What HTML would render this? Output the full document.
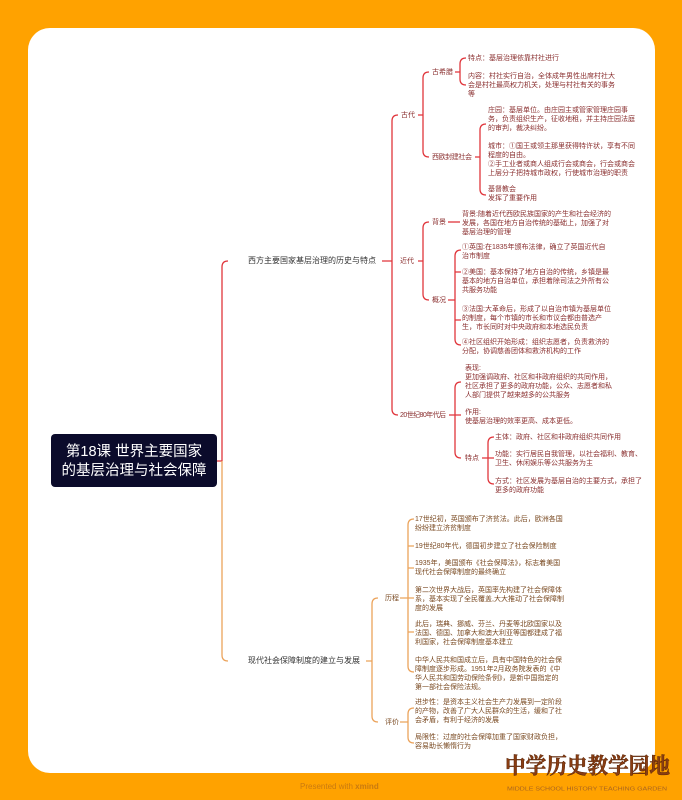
<!DOCTYPE html>
<html><head><meta charset="utf-8"><style>
body{margin:0;width:682px;height:800px;background:#FFA200;overflow:hidden;font-family:"Liberation Sans","Noto Sans CJK SC",sans-serif}
.card{position:absolute;left:28px;top:28px;width:627px;height:745px;background:#fff;border-radius:22px}
svg{position:absolute;left:0;top:0}
.r{fill:#8a2f2f;font-size:7px}
.o{fill:#7a4a22;font-size:7px}
.n{fill:#333;font-size:8px}
</style></head><body>
<div class="card"></div>
<svg width="682" height="800" viewBox="0 0 682 800" font-family="Liberation Sans, Noto Sans CJK SC, sans-serif" dominant-baseline="middle">
<rect x="51" y="434" width="166" height="53" rx="4" fill="#0b0b2b"/>
<text x="134" y="452" fill="#fff" font-size="14.5" text-anchor="middle">第18课 世界主要国家</text>
<text x="134" y="471" fill="#fff" font-size="14.5" text-anchor="middle">的基层治理与社会保障</text>
<g fill="none" stroke-width="1.3" stroke="#e0353b">
<path d="M217 461 L222 461 M228 261 Q222 261 222 267 L222 461"/>
<path d="M382 261 L392 261 M398 115 Q392 115 392 121 L392 409 Q392 415 398 415"/>
<path d="M418 115 L423 115 M429 72 Q423 72 423 78 L423 151 Q423 157 429 157"/>
<path d="M455 72 L460 72 M466 58 Q460 58 460 64 L460 79 Q460 85 466 85"/>
<path d="M475 157 L480 157 M486 124 Q480 124 480 130 L480 189 Q480 195 486 195"/>
<path d="M418 261 L423 261 M429 222 Q423 222 423 228 L423 294 Q423 300 429 300"/>
<path d="M448 222 L460 222"/>
<path d="M448 300 L455 300 M461 250 Q455 250 455 256 L455 339 Q455 345 461 345 M455 272 L461 272 M455 320 L461 320"/>
<path d="M449 415 L455 415 M461 382 Q455 382 455 388 L455 452 Q455 458 461 458 M455 415 L461 415"/>
<path d="M482 458 L488 458 M494 437 Q488 437 488 443 L488 478 Q488 484 494 484 M488 458 L494 458"/>
</g>
<g fill="none" stroke-width="1.3" stroke="#eba35b">
<path d="M222 461 L222 655 Q222 661 228 661"/>
<path d="M366 661 L372 661 M378 598 Q372 598 372 604 L372 716 Q372 722 378 722"/>
<path d="M400 598 L408 598 M414 519 Q408 519 408 525 L408 666 Q408 672 414 672 M408 546 L414 546 M408 568 L414 568 M408 598 L414 598 M408 632 L414 632"/>
<path d="M400 722 L408 722 M414 708 Q408 708 408 714 L408 737 Q408 743 414 743"/>
</g>
<text class="n" x="248" y="261">西方主要国家基层治理的历史与特点</text>
<text class="n" x="248" y="661">现代社会保障制度的建立与发展</text>
<g class="r">
<text x="401" y="115">古代</text><text x="400" y="261">近代</text><text x="400" y="415" textLength="46">20世纪80年代后</text>
<text x="432" y="72">古希腊</text><text x="432" y="157" textLength="40">西欧封建社会</text>
<text x="468" y="58">特点：基层治理依靠村社进行</text>
<text x="468" y="76">内容：村社实行自治，全体成年男性出席村社大</text>
<text x="468" y="85">会是村社最高权力机关，处理与村社有关的事务</text>
<text x="468" y="94">等</text>
<text x="488" y="110">庄园：基层单位。由庄园主或管家管理庄园事</text>
<text x="488" y="119">务，负责组织生产，征收地租，并主持庄园法庭</text>
<text x="488" y="128">的审判，裁决纠纷。</text>
<text x="488" y="146">城市：①国王或领主那里获得特许状，享有不同</text>
<text x="488" y="155">程度的自由。</text>
<text x="488" y="164">②手工业者或商人组成行会或商会，行会或商会</text>
<text x="488" y="173">上层分子把持城市政权，行使城市治理的职责</text>
<text x="488" y="189">基督教会</text>
<text x="488" y="198">发挥了重要作用</text>
<text x="432" y="222">背景</text><text x="432" y="300">概况</text>
<text x="462" y="214">背景:随着近代西欧民族国家的产生和社会经济的</text>
<text x="462" y="223">发展，各国在地方自治传统的基础上，加强了对</text>
<text x="462" y="232">基层治理的管理</text>
<text x="462" y="247">①英国:在1835年颁布法律，确立了英国近代自</text>
<text x="462" y="256">治市制度</text>
<text x="462" y="272">②美国：基本保持了地方自治的传统，乡镇是最</text>
<text x="462" y="281">基本的地方自治单位，承担着除司法之外所有公</text>
<text x="462" y="290">共服务功能</text>
<text x="462" y="309">③法国:大革命后，形成了以自治市镇为基层单位</text>
<text x="462" y="318">的制度，每个市镇的市长和市议会都由普选产</text>
<text x="462" y="327">生，市长同时对中央政府和本地选民负责</text>
<text x="462" y="342">④社区组织开始形成：组织志愿者，负责救济的</text>
<text x="462" y="351">分配，协调慈善团体和救济机构的工作</text>
<text x="465" y="368">表现:</text>
<text x="465" y="377">更加强调政府、社区和非政府组织的共同作用，</text>
<text x="465" y="386">社区承担了更多的政府功能，公众、志愿者和私</text>
<text x="465" y="395">人部门提供了越来越多的公共服务</text>
<text x="465" y="412">作用:</text>
<text x="465" y="421">使基层治理的效率更高、成本更低。</text>
<text x="465" y="458">特点</text>
<text x="495" y="437">主体：政府、社区和非政府组织共同作用</text>
<text x="495" y="454">功能：实行居民自我管理，以社会福利、教育、</text>
<text x="495" y="463">卫生、休闲娱乐等公共服务为主</text>
<text x="495" y="481">方式：社区发展为基层自治的主要方式，承担了</text>
<text x="495" y="490">更多的政府功能</text>
</g>
<g class="o">
<text x="385" y="598">历程</text><text x="385" y="722">评价</text>
<text x="415" y="519">17世纪初，英国颁布了济贫法。此后，欧洲各国</text>
<text x="415" y="528">纷纷建立济贫制度</text>
<text x="415" y="546">19世纪80年代，德国初步建立了社会保险制度</text>
<text x="415" y="563">1935年，美国颁布《社会保障法》，标志着美国</text>
<text x="415" y="572">现代社会保障制度的最终确立</text>
<text x="415" y="590">第二次世界大战后，英国率先构建了社会保障体</text>
<text x="415" y="599">系，基本实现了全民覆盖,大大推动了社会保障制</text>
<text x="415" y="608">度的发展</text>
<text x="415" y="624">此后，瑞典、挪威、芬兰、丹麦等北欧国家以及</text>
<text x="415" y="633">法国、德国、加拿大和澳大利亚等国都建成了福</text>
<text x="415" y="642">利国家，社会保障制度基本建立</text>
<text x="415" y="660">中华人民共和国成立后，具有中国特色的社会保</text>
<text x="415" y="669">障制度逐步形成。1951年2月政务院发表的《中</text>
<text x="415" y="678">华人民共和国劳动保险条例》，是新中国指定的</text>
<text x="415" y="687">第一部社会保险法规。</text>
<text x="415" y="702">进步性：是资本主义社会生产力发展到一定阶段</text>
<text x="415" y="711">的产物，改善了广大人民群众的生活，缓和了社</text>
<text x="415" y="720">会矛盾，有利于经济的发展</text>
<text x="415" y="737">局限性：过度的社会保障加重了国家财政负担，</text>
<text x="415" y="746">容易助长懒惰行为</text>
</g>
<text x="300" y="787" fill="#c97a10" font-size="8">Presented with <tspan font-weight="bold">xmind</tspan></text>
<text x="505" y="768" fill="#8a3d12" font-size="22" font-weight="bold" font-family="Noto Serif CJK SC, serif" stroke="#5a2508" stroke-width="0.5" textLength="165" lengthAdjust="spacingAndGlyphs">中学历史教学园地</text>
<text x="507" y="789" fill="#a86420" font-size="5" textLength="160" lengthAdjust="spacingAndGlyphs">MIDDLE SCHOOL HISTORY TEACHING GARDEN</text>
</svg>
</body></html>
